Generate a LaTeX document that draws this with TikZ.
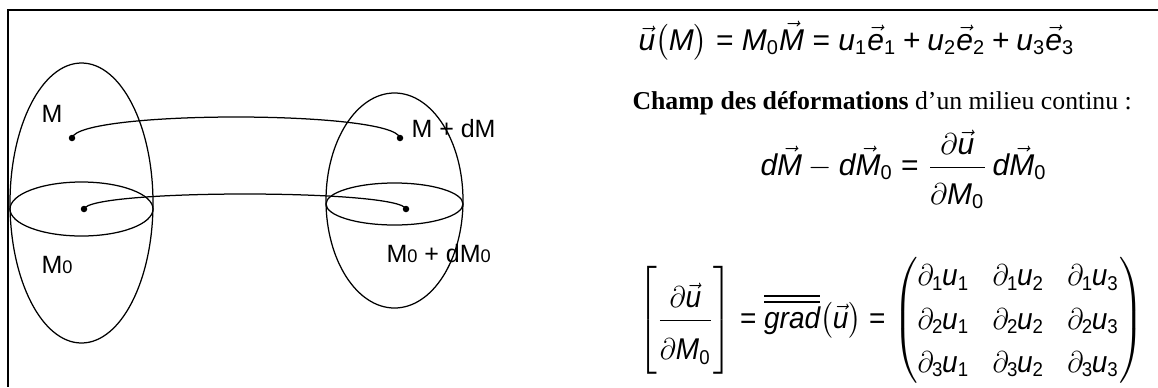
\documentclass[tikz,border=0pt]{standalone}
\usepackage{amsmath}
\usepackage{graphicx}
\usepackage{fontspec}
\setmainfont{Liberation Serif}
\newfontfamily\arialfont{Liberation Sans}
\usetikzlibrary{positioning}

% Arial-like letters inside the formulas
\newcommand{\eqv}[1]{\text{\arialfont\itshape #1}}
\newcommand{\ix}[1]{\text{\arialfont #1}}
\newcommand{\eqs}{\mathrel{\ix{=}}}
\newcommand{\eqp}{\mathbin{\ix{+}}}
\newcommand{\pd}[2]{\partial_{\ix{#1}}\mkern-1mu\eqv{u}_{\ix{#2}}}
\newcommand{\lowzero}{{\fontsize{7.3}{8}\selectfont 0}}

\begin{document}
\begin{tikzpicture}[
    x=0.4pt, y=-0.4pt,
    frame/.style={line width=0.7pt},
    outline/.style={line width=0.5pt},
    ptdot/.style={circle,fill=black,inner sep=0pt,minimum size=2.6pt},
    ptlabel/.style={anchor=base west,inner sep=0pt,font=\arialfont\fontsize{10}{12}\selectfont},
    eqn/.style={anchor=base west,inner sep=0pt,font=\fontsize{12}{14.4}\selectfont},
    txt/.style={anchor=base west,inner sep=0pt,font=\fontsize{10.3}{12}\selectfont}
  ]
  \useasboundingbox (0,0) rectangle (1158,387);
  \draw[frame] (1158,10) -- (8,10) -- (8,387);

  % the two volumes
  \draw[outline] (81.5,203) ellipse [x radius=71.5, y radius=140];
  \draw[outline] (81.5,209) ellipse [x radius=71.5, y radius=27];
  \draw[outline] (394.5,200.5) ellipse [x radius=68.5, y radius=107.5];
  \draw[outline] (394.5,204) ellipse [x radius=68.5, y radius=21];

  % points
  \node[ptdot] (m) at (72,138) {};
  \node[ptdot] (mdm) at (400,138) {};
  \node[ptdot] (mzero) at (84,209) {};
  \node[ptdot] (mzerodm) at (406,209) {};
  \draw[outline] (m.center) .. controls (78,110) and (394,110) .. (mdm.center);
  \draw[outline] (mzero.center) .. controls (90,189) and (400,189) .. (mzerodm.center);

  \node[ptlabel] (lm) at (41,122) {M};
  \node[ptlabel] (lmdm) at (411,137) {M + dM};
  \node[ptlabel] (lmzero) at (41,273) {M\lowzero};
  \node[ptlabel] (lmzerodm) at (386,262) {M\lowzero{} + dM\lowzero};

  % formulas
  \node[eqn] (disp) at (638,50) {$\vec{\eqv{u}}\bigl(\eqv{M}\bigr) \eqs \eqv{M}_{\ix{0}}\vec{\eqv{M}} \eqs \eqv{u}_{\ix{1}}\vec{\eqv{e}}_{\ix{1}} \eqp \eqv{u}_{\ix{2}}\vec{\eqv{e}}_{\ix{2}} \eqp \eqv{u}_{\ix{3}}\vec{\eqv{e}}_{\ix{3}}$};
  \node[txt] (title) at (632,109) {\textbf{Champ des déformations} d’un milieu continu :};
  \node[eqn] (deform) at (760,175) {$\eqv{d}\vec{\eqv{M}} - \eqv{d}\vec{\eqv{M}}_{\ix{0}} \eqs \dfrac{\partial\vec{\eqv{u}}}{\partial\eqv{M}_{\ix{0}}\rule{0pt}{13pt}}\,\eqv{d}\vec{\eqv{M}}_{\ix{0}}$};
  \node[eqn] (grad) at (638,328) {\resizebox{202pt}{\height}{\setlength{\arraycolsep}{5pt}\renewcommand{\arraystretch}{1.2}%
    $\left[\vphantom{\rule[-17pt]{0pt}{40pt}}\dfrac{\partial\vec{\eqv{u}}}{\partial\eqv{M}_{\ix{0}}\rule{0pt}{14pt}}\right] \eqs \overline{\overline{\eqv{grad}}}\bigl(\vec{\eqv{u}}\bigr) \eqs
    \begin{pmatrix}
      \pd{1}{1} & \pd{1}{2} & \pd{1}{3}\\
      \pd{2}{1} & \pd{2}{2} & \pd{2}{3}\\
      \pd{3}{1} & \pd{3}{2} & \pd{3}{3}
    \end{pmatrix}$}};
\end{tikzpicture}
\end{document}
